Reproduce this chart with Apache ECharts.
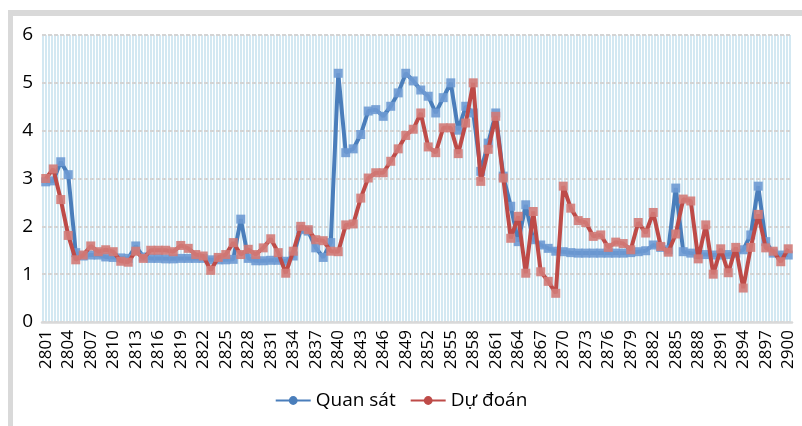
<!DOCTYPE html>
<html lang="vi">
<head>
  <meta charset="utf-8">
  <title>Quan sát - Dự đoán</title>
  <script src="https://cdn.jsdelivr.net/npm/echarts@6/dist/echarts.min.js"></script>
  <style>
    body { margin: 0; background: #fff; }
    #wrap { position: relative; width: 802px; height: 426px; }
    #chart { position: absolute; left: 0; top: 0; width: 802px; height: 426px; }
    #frame {
      position: absolute; left: 8px; top: 10px; right: 0; bottom: 0;
      border-top: 6px solid #d9d9d9; border-left: 5px solid #d9d9d9;
      pointer-events: none;
    }
  </style>
</head>
<body>
<div id="wrap">
  <div id="chart"></div>
  <div id="frame"></div>
</div>
<script>
  // categories 2801 .. 2900
  var days = [];
  for (var d = 2801; d <= 2900; d++) days.push(String(d));

  var quanSat = [
    2.93, 2.95, 3.35, 3.08, 1.45, 1.38, 1.40, 1.40, 1.36, 1.35,
    1.34, 1.33, 1.59, 1.36, 1.33, 1.33, 1.32, 1.32, 1.33, 1.33,
    1.33, 1.33, 1.30, 1.30, 1.30, 1.31, 2.15, 1.33, 1.28, 1.28,
    1.29, 1.29, 1.27, 1.38, 1.93, 1.90, 1.55, 1.35, 1.66, 5.20,
    3.54, 3.62, 3.92, 4.41, 4.44, 4.30, 4.51, 4.79, 5.20, 5.04,
    4.85, 4.72, 4.37, 4.69, 5.00, 4.01, 4.51, 4.37, 3.15, 3.74,
    4.37, 3.05, 2.42, 1.68, 2.45, 1.72, 1.61, 1.54, 1.48, 1.47,
    1.45, 1.44, 1.44, 1.44, 1.44, 1.44, 1.44, 1.44, 1.45, 1.47,
    1.49, 1.61, 1.56, 1.51, 2.80, 1.47, 1.44, 1.41, 1.41, 1.40,
    1.40, 1.41, 1.44, 1.51, 1.82, 2.84, 1.68, 1.44, 1.40, 1.40
  ];

  var duDoan = [
    3.00, 3.20, 2.56, 1.81, 1.30, 1.40, 1.59, 1.47, 1.51, 1.47,
    1.27, 1.25, 1.48, 1.33, 1.50, 1.50, 1.50, 1.47, 1.60, 1.54,
    1.41, 1.38, 1.08, 1.35, 1.41, 1.66, 1.41, 1.52, 1.41, 1.55,
    1.74, 1.45, 1.02, 1.48, 2.00, 1.93, 1.72, 1.70, 1.48, 1.47,
    2.03, 2.05, 2.59, 3.01, 3.12, 3.12, 3.36, 3.62, 3.90, 4.03,
    4.37, 3.66, 3.54, 4.06, 4.06, 3.52, 4.16, 5.00, 2.94, 3.61,
    4.30, 3.01, 1.75, 2.21, 1.02, 2.31, 1.05, 0.85, 0.60, 2.84,
    2.38, 2.12, 2.08, 1.79, 1.82, 1.56, 1.67, 1.64, 1.51, 2.08,
    1.86, 2.29, 1.58, 1.46, 1.84, 2.57, 2.53, 1.32, 2.03, 1.00,
    1.53, 1.03, 1.56, 0.71, 1.56, 2.25, 1.55, 1.48, 1.26, 1.53
  ];

  var blue = '#4a7ebb';
  var red = '#be4b48';
  var font = '"Open Sans", "Noto Sans", sans-serif';

  // light blue vertical hatch for the plot area
  var hatch = document.createElement('canvas');
  hatch.width = 3;
  hatch.height = 4;
  var hctx = hatch.getContext('2d');
  hctx.fillStyle = '#ffffff';
  hctx.fillRect(0, 0, 3, 4);
  hctx.fillStyle = '#d3e8f2';
  hctx.fillRect(0, 0, 2, 4);

  var myChart = echarts.init(document.getElementById('chart'));

  var option = {
    animation: false,
    textStyle: { fontFamily: font },
    grid: {
      left: 42, right: 10, top: 35, bottom: 104,
      show: true,
      borderWidth: 0,
      backgroundColor: { image: hatch, repeat: 'repeat' }
    },
    legend: {
      data: ['Quan sát', 'Dự đoán'],
      left: 'center',
      top: 386,
      itemWidth: 35,
      itemHeight: 11,
      itemGap: 14,
      textStyle: { fontSize: 19, color: '#000', fontFamily: font }
    },
    xAxis: {
      type: 'category',
      data: days,
      boundaryGap: true,
      axisLine: { lineStyle: { color: '#d9d9d9', width: 2.5 } },
      axisTick: { show: false },
      axisLabel: {
        interval: 2,
        rotate: 90,
        margin: 8,
        fontSize: 17,
        color: '#000',
        fontFamily: font
      },
      splitLine: { show: false }
    },
    yAxis: {
      type: 'value',
      min: 0,
      max: 6,
      interval: 1,
      axisLine: { show: false },
      axisTick: { show: false },
      axisLabel: { fontSize: 19, color: '#000', margin: 9, fontFamily: font },
      splitLine: { lineStyle: { color: '#d4d4d4', width: 2, type: [4, 2] } }
    },
    series: [
      {
        name: 'Quan sát',
        type: 'line',
        data: quanSat,
        symbol: 'none',
        itemStyle: { color: blue },
        lineStyle: { color: blue, width: 4 },
        z: 2
      },
      {
        name: 'Quan sát (điểm)',
        type: 'scatter',
        data: quanSat,
        symbol: 'rect',
        symbolSize: 9,
        itemStyle: { color: '#6e9ad3', opacity: 0.9 },
        z: 3
      },
      {
        name: 'Dự đoán',
        type: 'line',
        data: duDoan,
        symbol: 'none',
        itemStyle: { color: red },
        lineStyle: { color: red, width: 4 },
        z: 4
      },
      {
        name: 'Dự đoán (điểm)',
        type: 'scatter',
        data: duDoan,
        symbol: 'rect',
        symbolSize: 9,
        itemStyle: { color: '#d27b78', opacity: 0.9 },
        z: 5
      }
    ]
  };

  myChart.setOption(option);
</script>
</body>
</html>
